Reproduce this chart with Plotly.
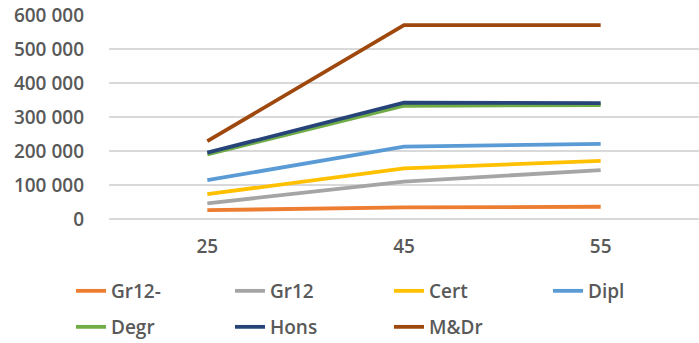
import plotly.graph_objects as go

ages = ["25", "45", "55"]

gr12_minus = [26000, 34000, 36000]
gr12 = [46000, 110000, 144000]
cert = [73000, 149000, 171000]
dipl = [114000, 213000, 221000]
degr = [190000, 333000, 335000]
hons = [195000, 342000, 341000]
m_dr = [229000, 570000, 570000]

names = ["Gr12-", "Gr12", "Cert", "Dipl", "Degr", "Hons", "M&Dr"]
values = [gr12_minus, gr12, cert, dipl, degr, hons, m_dr]
colors = ["#ED7D31", "#A5A5A5", "#FFC000", "#5B9BD5", "#70AD47", "#264478", "#9E480E"]

y_ticks = [0, 100000, 200000, 300000, 400000, 500000, 600000]

font = dict(family="Open Sans, sans-serif", size=19, color="#595959", weight=600)

# legend entries laid out in a 4-column grid below the plot
col_x = [70, 229, 388, 547]
row_y = [291, 327]

fig = go.Figure()
legends = {}
for i, (name, vals, color) in enumerate(zip(names, values, colors)):
    key = "legend" if i == 0 else f"legend{i + 1}"
    fig.add_trace(go.Scatter(
        x=ages, y=vals, name=name, mode="lines",
        line=dict(color=color, width=3.8),
        legend=key,
    ))
    legends[key] = dict(
        xref="container", yref="container",
        xanchor="left", yanchor="middle",
        x=(col_x[i % 4] + 1) / 699, y=1 - row_y[i // 4] / 343,
        font=font, bgcolor="rgba(0,0,0,0)",
    )

fig.update_layout(
    width=699, height=343,
    margin=dict(l=109, r=0, t=15, b=124, autoexpand=False),
    paper_bgcolor="white", plot_bgcolor="white",
    separators=". ",
    font=font,
    showlegend=True,
    xaxis=dict(
        type="category", range=[-0.5, 2.5],
        showgrid=False, zeroline=False,
        showline=False, ticks="", ticklabelstandoff=14,
        tickfont=font,
    ),
    yaxis=dict(
        range=[0, 600000], tickvals=y_ticks, tickformat=",d",
        showgrid=True, gridcolor="#D9D9D9", gridwidth=1.5,
        zeroline=True, zerolinecolor="#D9D9D9", zerolinewidth=1.5,
        showline=False, ticks="", ticklabelstandoff=24,
        tickfont=font,
    ),
    **legends,
)

fig.write_html("out.html")
